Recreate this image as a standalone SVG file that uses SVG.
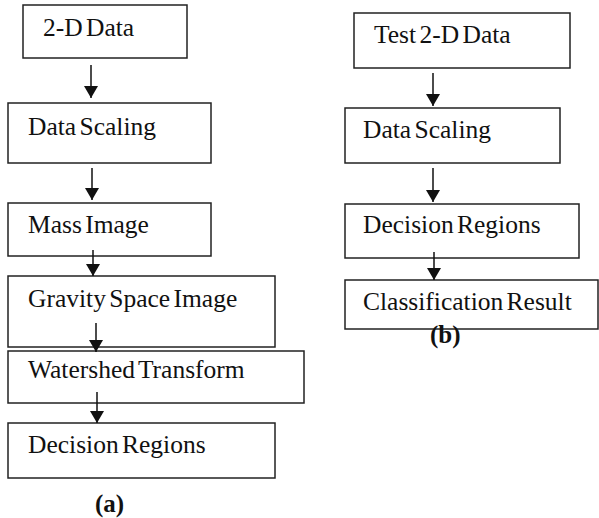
<svg xmlns="http://www.w3.org/2000/svg" width="599" height="518" viewBox="0 0 599 518">
<style>
.box{fill:#fff;stroke:#222;stroke-width:1.5}
.t{font-family:"Liberation Serif","Times New Roman",serif;font-size:25.5px;fill:#111;word-spacing:-3px}
.cap{font-family:"Liberation Serif","Times New Roman",serif;font-size:25px;font-weight:bold;fill:#111}
.c{stroke:#111;stroke-width:1.5;fill:none;marker-end:url(#ah)}
</style>
<defs>
<marker id="ah" markerUnits="userSpaceOnUse" viewBox="0 0 12 14" refX="12" refY="7" markerWidth="12" markerHeight="14" orient="auto">
<path d="M0,0 L12,7 L0,14 z" fill="#111"/>
</marker>
</defs>
<rect width="599" height="518" fill="#fff"/>
<g id="a1"><rect class="box" x="23" y="5" width="164" height="53"/><text class="t" x="43" y="36">2-D Data</text></g>
<g id="a2"><rect class="box" x="8" y="103" width="203" height="60"/><text class="t" x="28" y="135">Data Scaling</text></g>
<g id="a3"><rect class="box" x="8" y="203" width="203" height="53"/><text class="t" x="28" y="233">Mass Image</text></g>
<g id="a4"><rect class="box" x="8" y="276" width="267" height="71"/><text class="t" x="28" y="307">Gravity Space Image</text></g>
<g id="a5"><rect class="box" x="8" y="351" width="296" height="52"/><text class="t" x="28" y="378">Watershed Transform</text></g>
<g id="a6"><rect class="box" x="8" y="423" width="267" height="55"/><text class="t" x="28" y="453">Decision Regions</text></g>
<g id="b1"><rect class="box" x="354" y="13" width="216" height="55"/><text class="t" x="374" y="43">Test 2-D Data</text></g>
<g id="b2"><rect class="box" x="345" y="108" width="215" height="55"/><text class="t" x="363" y="138">Data Scaling</text></g>
<g id="b3"><rect class="box" x="345" y="204" width="234" height="54"/><text class="t" x="363" y="233">Decision Regions</text></g>
<g id="b4"><rect class="box" x="345" y="280" width="253" height="49"/><text class="t" x="363" y="310">Classification Result</text></g>
<g id="connectors">
<line class="c" x1="91" y1="65" x2="91" y2="98"/>
<line class="c" x1="92" y1="168" x2="92" y2="200"/>
<line class="c" x1="93" y1="250" x2="93" y2="276"/>
<line class="c" x1="96" y1="323" x2="96" y2="352"/>
<line class="c" x1="97" y1="392" x2="97" y2="423"/>
<line class="c" x1="433" y1="73" x2="433" y2="106"/>
<line class="c" x1="433" y1="168" x2="433" y2="202"/>
<line class="c" x1="434" y1="252" x2="434" y2="280"/>
</g>
<text class="cap" x="95" y="512">(a)</text>
<text class="cap" x="430" y="343">(b)</text>
</svg>
